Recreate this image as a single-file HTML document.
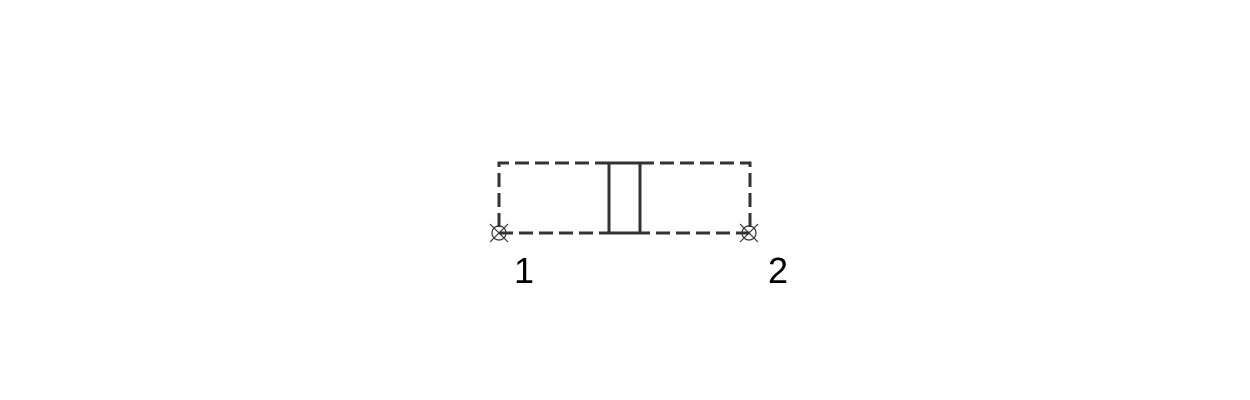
<!DOCTYPE html>
<html><head><meta charset="utf-8"><style>html,body{margin:0;background:#fff;}svg{display:block;}</style></head>
<body>
<svg id="c" width="1250" height="400" xmlns="http://www.w3.org/2000/svg">
<g stroke="#333" stroke-width="3" fill="none">
<path d="M609,163 H499 V233 H609" stroke-dasharray="14,6"/>
<path d="M640,163 H750 V233 H640" stroke-dasharray="14,6"/>
<path d="M609,163 V233 M640,163 V233 M609,163 H640 M609,233 H640"/>
</g>
<g id="nodes"></g>
</svg>
<script>
const nodeLabels = ["1", "2"];
const nodeX = [499, 749];
const nodeY = [233, 233];
const labelX = [524, 778];
const g = document.getElementById('nodes');
const ns = 'http://www.w3.org/2000/svg';
nodeLabels.forEach((lab, i) => {
  const x = nodeX[i], y = nodeY[i];
  const c = document.createElementNS(ns, 'circle');
  
  
  c.setAttribute('cx', x); c.setAttribute('cy', y); c.setAttribute('r', 7);
  c.setAttribute('fill', 'none'); c.setAttribute('stroke', '#333'); c.setAttribute('stroke-width', '1.2');
  g.appendChild(c);
  const p = document.createElementNS(ns, 'path');
  
  
  p.setAttribute('d', `M${x-9},${y-9} L${x+9},${y+9} M${x+9},${y-9} L${x-9},${y+9}`);
  p.setAttribute('stroke', '#333'); p.setAttribute('stroke-width', '1.2');
  g.appendChild(p);
  const t = document.createElementNS(ns, 'text');
  
  
  t.setAttribute('x', labelX[i]); t.setAttribute('y', y + 50);
  t.setAttribute('text-anchor', 'middle');
  t.setAttribute('font-family', 'Liberation Sans, sans-serif');
  t.setAttribute('font-size', '36');
  t.setAttribute('fill', '#000');
  t.textContent = lab;
  g.appendChild(t);
});
</script>
</body></html>
